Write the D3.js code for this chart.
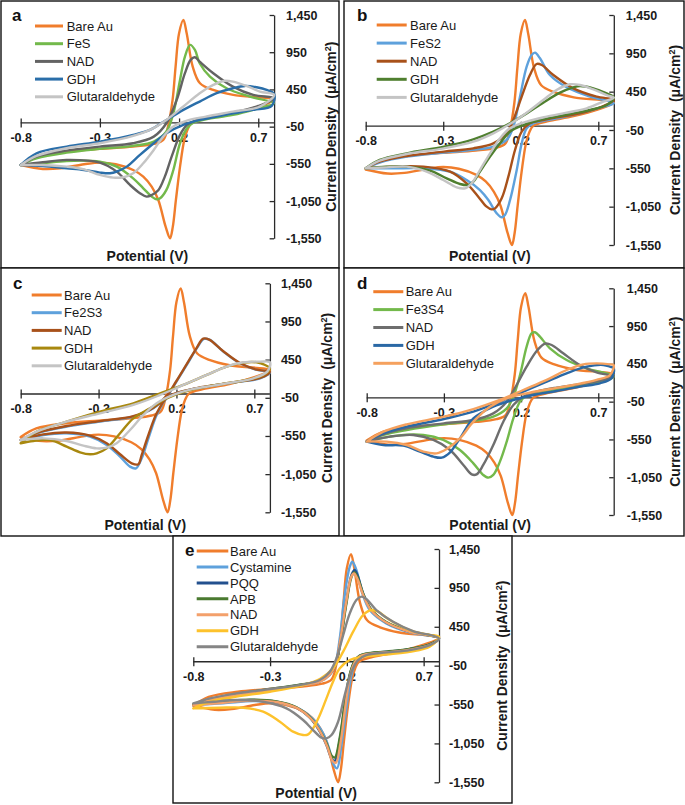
<!DOCTYPE html>
<html><head><meta charset="utf-8">
<script src="https://cdn.jsdelivr.net/npm/d3@7"></script>
<style>
body{margin:0;background:#fff}
svg{display:block}
text{font-family:"Liberation Sans",Arial,Helvetica,sans-serif}
</style>
</head><body>
<svg id="chart" width="685" height="805"></svg>
<script>
// ---------- DATA (potential V, current density µA/cm²) ----------
const potentialTicks = [-0.8, -0.3, 0.2, 0.7];
const currentTicks = [-1550, -1050, -550, -50, 450, 950, 1450];

const bareAu = [[-0.8,-565],[-0.7,-452],[-0.51,-385],[-0.3,-349],[-0.09,-318],[0.04,-282],[0.1,-228],[0.13,-49],[0.159,309],[0.178,757],[0.2,1205],[0.227,1384],[0.248,1205],[0.286,757],[0.332,533],[0.416,443],[0.542,376],[0.8,309],
 [0.7,220],[0.54,130],[0.37,63],[0.28,4],[0.255,-80],[0.233,-228],[0.206,-587],[0.18,-1035],[0.16,-1400],[0.143,-1550],[0.115,-1393],[0.069,-1035],[0.027,-856],[-0.026,-721],[-0.09,-632],[-0.2,-555],[-0.3,-533],[-0.4,-556],[-0.55,-609],[-0.66,-618],[-0.8,-565]];

const a_FeS = [[-0.8,-565],[-0.7,-475],[-0.51,-399],[-0.3,-349],[-0.09,-309],[0.04,-251],[0.12,-116],[0.164,130],[0.206,578],[0.237,892],[0.27,1048],[0.3,981],[0.33,802],[0.395,623],[0.5,466],[0.647,354],[0.8,264],
 [0.7,197],[0.54,108],[0.37,49],[0.29,4],[0.25,-72],[0.206,-273],[0.164,-632],[0.12,-900],[0.08,-1012],[0.058,-1026],[0.027,-990],[-0.026,-878],[-0.09,-744],[-0.194,-587],[-0.3,-520],[-0.51,-511],[-0.66,-542],[-0.8,-565]];
const a_NAD = [[-0.8,-565],[-0.7,-452],[-0.51,-372],[-0.3,-318],[-0.09,-273],[0.04,-184],[0.12,-4],[0.185,309],[0.237,668],[0.273,847],[0.3,883],[0.33,824],[0.416,668],[0.54,488],[0.668,376],[0.8,332],
 [0.7,228],[0.54,139],[0.37,76],[0.29,18],[0.25,-27],[0.206,-161],[0.153,-452],[0.11,-721],[0.07,-900],[0.027,-968],[-0.005,-990],[-0.047,-945],[-0.11,-833],[-0.194,-654],[-0.3,-533],[-0.51,-497],[-0.66,-529],[-0.8,-565]];
const a_GDH = [[-0.8,-565],[-0.7,-408],[-0.51,-318],[-0.3,-251],[-0.09,-161],[0.016,-94],[0.12,40],[0.227,175],[0.33,287],[0.437,399],[0.54,466],[0.616,497],[0.69,479],[0.753,444],[0.8,390],
 [0.785,230],[0.668,175],[0.54,130],[0.437,85],[0.33,40],[0.227,-27],[0.12,-139],[0.04,-273],[-0.047,-430],[-0.13,-587],[-0.194,-654],[-0.236,-676],[-0.3,-667],[-0.4,-632],[-0.51,-609],[-0.66,-578],[-0.8,-565]];
const a_Glut = [[-0.8,-565],[-0.7,-443],[-0.51,-340],[-0.3,-273],[-0.09,-175],[0.016,-94],[0.12,40],[0.227,220],[0.33,399],[0.416,511],[0.48,564],[0.54,555],[0.626,497],[0.71,421],[0.8,376],
 [0.71,220],[0.54,152],[0.37,85],[0.25,31],[0.164,-49],[0.1,-184],[0.04,-363],[-0.026,-542],[-0.09,-676],[-0.152,-730],[-0.215,-735],[-0.3,-699],[-0.4,-623],[-0.51,-587],[-0.66,-565],[-0.8,-565]];

const b_FeS2 = [[-0.8,-550],[-0.71,-476],[-0.535,-398],[-0.295,-345],[-0.106,-310],[0.023,-267],[0.109,-180],[0.152,-7],[0.195,385],[0.238,776],[0.27,928],[0.292,959],[0.324,885],[0.388,667],[0.496,507],[0.646,385],[0.8,300],
 [0.732,254],[0.582,167],[0.431,102],[0.324,59],[0.281,37],[0.238,-28],[0.206,-224],[0.174,-572],[0.131,-963],[0.098,-1159],[0.077,-1189],[0.045,-1137],[-0.009,-963],[-0.063,-833],[-0.149,-702],[-0.256,-593],[-0.428,-550],[-0.622,-550],[-0.8,-550]];
const b_NAD = [[-0.8,-550],[-0.71,-463],[-0.535,-389],[-0.295,-332],[-0.106,-289],[0.023,-224],[0.109,-93],[0.152,80],[0.206,385],[0.259,667],[0.302,811],[0.335,798],[0.41,667],[0.539,493],[0.689,385],[0.8,341],
 [0.732,263],[0.582,167],[0.431,115],[0.324,72],[0.259,37],[0.206,-72],[0.163,-311],[0.12,-659],[0.077,-941],[0.034,-1072],[0.012,-1085],[-0.02,-1050],[-0.074,-920],[-0.149,-746],[-0.256,-593],[-0.428,-528],[-0.622,-528],[-0.8,-550]];
const b_GDH = [[-0.8,-550],[-0.71,-441],[-0.535,-354],[-0.295,-267],[-0.106,-172],[0.023,-72],[0.13,37],[0.238,167],[0.345,307],[0.453,437],[0.539,507],[0.582,524],[0.668,493],[0.754,428],[0.8,376],
 [0.754,276],[0.646,211],[0.539,167],[0.431,124],[0.324,80],[0.217,15],[0.13,-72],[0.066,-224],[0.002,-398],[-0.063,-593],[-0.106,-724],[-0.138,-767],[-0.192,-754],[-0.278,-680],[-0.385,-580],[-0.535,-528],[-0.665,-528],[-0.8,-550]];
const b_Glut = [[-0.8,-550],[-0.71,-450],[-0.535,-363],[-0.295,-289],[-0.106,-202],[0.023,-93],[0.13,28],[0.238,176],[0.345,341],[0.431,472],[0.517,546],[0.582,537],[0.668,480],[0.754,406],[0.8,372],
 [0.732,320],[0.625,233],[0.496,176],[0.367,124],[0.238,59],[0.13,-28],[0.066,-159],[0.002,-354],[-0.063,-572],[-0.117,-746],[-0.16,-811],[-0.213,-798],[-0.3,-702],[-0.407,-593],[-0.535,-528],[-0.665,-537],[-0.8,-550]];

const c_Fe2S3 = [[-0.8,-603],[-0.697,-515],[-0.505,-428],[-0.291,-362],[-0.077,-297],[0.052,-188],[0.137,-35],[0.2,162],[0.266,380],[0.33,598],[0.377,721],[0.415,708],[0.501,555],[0.608,402],[0.715,315],[0.8,284],
 [0.737,205],[0.608,162],[0.458,118],[0.308,66],[0.2,9],[0.137,-57],[0.073,-275],[0.02,-581],[-0.023,-843],[-0.06,-974],[-0.098,-952],[-0.162,-821],[-0.248,-668],[-0.355,-559],[-0.505,-515],[-0.654,-537],[-0.8,-603]];
const c_NAD = [[-0.8,-603],[-0.697,-510],[-0.505,-420],[-0.291,-355],[-0.077,-290],[0.052,-180],[0.137,-25],[0.2,170],[0.266,390],[0.33,605],[0.372,725],[0.41,712],[0.501,560],[0.608,405],[0.715,318],[0.8,290],
 [0.737,210],[0.608,165],[0.458,120],[0.308,68],[0.2,12],[0.137,-50],[0.073,-253],[0.02,-537],[-0.023,-799],[-0.045,-921],[-0.087,-908],[-0.162,-790],[-0.248,-646],[-0.355,-546],[-0.505,-505],[-0.654,-530],[-0.8,-603]];
const c_GDH = [[-0.8,-646],[-0.697,-493],[-0.505,-362],[-0.291,-231],[-0.077,-122],[0.095,9],[0.244,118],[0.394,249],[0.522,358],[0.629,411],[0.715,415],[0.769,380],[0.8,336],
 [0.758,249],[0.651,183],[0.522,140],[0.394,96],[0.266,39],[0.137,-57],[0.03,-188],[-0.077,-319],[-0.162,-515],[-0.248,-712],[-0.312,-777],[-0.355,-790],[-0.419,-764],[-0.505,-690],[-0.612,-603],[-0.719,-616],[-0.8,-646]];
const c_Glut = [[-0.8,-603],[-0.697,-493],[-0.505,-362],[-0.291,-253],[-0.077,-144],[0.095,-13],[0.244,118],[0.394,249],[0.522,358],[0.629,415],[0.737,424],[0.8,415],
 [0.783,293],[0.694,205],[0.565,153],[0.437,109],[0.308,66],[0.18,-13],[0.073,-122],[-0.012,-275],[-0.098,-472],[-0.184,-646],[-0.248,-703],[-0.312,-712],[-0.398,-677],[-0.505,-616],[-0.654,-581],[-0.8,-603]];

const d_Fe3S4 = [[-0.8,-579],[-0.692,-491],[-0.541,-425],[-0.3,-350],[-0.109,-306],[0.02,-249],[0.107,-139],[0.15,16],[0.193,302],[0.236,678],[0.268,854],[0.29,868],[0.322,810],[0.387,656],[0.495,501],[0.625,391],[0.8,281],
 [0.711,215],[0.581,162],[0.43,104],[0.301,60],[0.236,29],[0.193,-50],[0.15,-271],[0.107,-579],[0.063,-844],[0.02,-1020],[-0.012,-1056],[-0.045,-1020],[-0.109,-866],[-0.196,-690],[-0.304,-557],[-0.433,-491],[-0.606,-500],[-0.8,-579]];
const d_NAD = [[-0.8,-579],[-0.692,-482],[-0.541,-403],[-0.3,-337],[-0.109,-293],[0.02,-205],[0.107,-50],[0.171,170],[0.236,413],[0.301,621],[0.355,718],[0.398,700],[0.473,590],[0.581,435],[0.689,338],[0.8,281],
 [0.733,237],[0.581,180],[0.43,136],[0.301,83],[0.214,16],[0.15,-94],[0.085,-315],[0.02,-624],[-0.045,-888],[-0.088,-1012],[-0.12,-1012],[-0.174,-888],[-0.26,-690],[-0.368,-557],[-0.498,-491],[-0.649,-513],[-0.8,-579]];
const d_GDH = [[-0.8,-579],[-0.692,-469],[-0.541,-381],[-0.3,-280],[-0.109,-183],[0.063,-50],[0.214,82],[0.366,215],[0.495,325],[0.625,413],[0.733,435],[0.776,413],[0.8,391],
 [0.786,259],[0.711,193],[0.581,149],[0.43,91],[0.279,38],[0.15,-28],[0.02,-117],[-0.109,-271],[-0.196,-536],[-0.26,-721],[-0.314,-791],[-0.368,-778],[-0.455,-712],[-0.563,-632],[-0.692,-624],[-0.8,-579]];
const d_Glut = [[-0.8,-579],[-0.692,-447],[-0.541,-350],[-0.3,-249],[-0.109,-148],[0.063,-28],[0.214,104],[0.366,237],[0.495,369],[0.603,444],[0.689,457],[0.776,444],[0.8,435],
 [0.776,303],[0.689,237],[0.538,170],[0.387,117],[0.236,60],[0.107,-6],[-0.001,-117],[-0.109,-315],[-0.196,-536],[-0.282,-677],[-0.347,-734],[-0.433,-712],[-0.541,-624],[-0.671,-579],[-0.8,-579]];

const e_Cyst = [[-0.8,-556],[-0.692,-492],[-0.518,-427],[-0.301,-363],[-0.085,-299],[0.024,-256],[0.089,-170],[0.121,-62],[0.154,302],[0.186,858],[0.219,1223],[0.236,1287],[0.262,1180],[0.301,880],[0.349,665],[0.457,494],[0.609,378],[0.8,300],
 [0.739,222],[0.609,163],[0.457,120],[0.327,94],[0.284,60],[0.258,0],[0.23,-170],[0.197,-599],[0.165,-1071],[0.136,-1370],[0.115,-1327],[0.084,-1113],[0.045,-921],[-0.02,-737],[-0.106,-608],[-0.236,-527],[-0.41,-506],[-0.605,-535],[-0.8,-556]];
const e_PQQ = [[-0.8,-556],[-0.692,-488],[-0.518,-420],[-0.301,-355],[-0.085,-292],[0.024,-248],[0.089,-160],[0.126,-41],[0.158,259],[0.197,773],[0.23,1116],[0.251,1180],[0.273,1094],[0.306,880],[0.36,665],[0.457,506],[0.609,387],[0.8,300],
 [0.739,222],[0.609,163],[0.457,129],[0.327,103],[0.284,77],[0.251,9],[0.219,-170],[0.186,-556],[0.154,-1006],[0.121,-1276],[0.1,-1242],[0.067,-1071],[0.024,-899],[-0.041,-720],[-0.128,-591],[-0.258,-514],[-0.431,-492],[-0.627,-522],[-0.8,-556]];
const e_APB = [[-0.8,-548],[-0.692,-484],[-0.518,-416],[-0.301,-350],[-0.085,-288],[0.024,-244],[0.089,-155],[0.126,-35],[0.158,250],[0.197,750],[0.23,1090],[0.249,1150],[0.272,1075],[0.306,875],[0.36,668],[0.457,510],[0.609,392],[0.8,302],
 [0.739,224],[0.609,166],[0.457,131],[0.327,105],[0.284,79],[0.251,12],[0.219,-160],[0.186,-535],[0.154,-970],[0.121,-1232],[0.1,-1205],[0.067,-1045],[0.024,-885],[-0.041,-712],[-0.128,-585],[-0.258,-510],[-0.431,-488],[-0.627,-515],[-0.8,-548]];
const e_NAD = [[-0.8,-560],[-0.692,-495],[-0.518,-430],[-0.301,-365],[-0.085,-300],[0.024,-255],[0.089,-165],[0.124,-45],[0.156,265],[0.195,760],[0.228,1090],[0.246,1135],[0.27,1060],[0.304,870],[0.355,670],[0.457,505],[0.609,385],[0.8,300],
 [0.739,215],[0.609,155],[0.457,122],[0.327,96],[0.284,70],[0.255,5],[0.222,-170],[0.19,-580],[0.158,-1050],[0.128,-1300],[0.105,-1270],[0.072,-1090],[0.03,-910],[-0.035,-730],[-0.12,-600],[-0.25,-520],[-0.42,-500],[-0.62,-530],[-0.8,-560]];
const e_GDH = [[-0.8,-600],[-0.692,-514],[-0.518,-449],[-0.301,-385],[-0.085,-299],[0.024,-222],[0.11,-84],[0.176,130],[0.241,387],[0.306,601],[0.36,665],[0.403,644],[0.479,537],[0.609,408],[0.739,344],[0.8,320],
 [0.739,193],[0.609,129],[0.457,94],[0.306,64],[0.219,22],[0.154,-84],[0.11,-256],[0.067,-471],[0.024,-685],[-0.02,-857],[-0.052,-934],[-0.085,-942],[-0.15,-899],[-0.236,-771],[-0.345,-642],[-0.475,-591],[-0.627,-591],[-0.8,-600]];
const e_Glut = [[-0.8,-535],[-0.692,-471],[-0.518,-406],[-0.301,-351],[-0.085,-291],[0.024,-235],[0.089,-128],[0.132,43],[0.176,343],[0.219,622],[0.262,794],[0.295,837],[0.327,807],[0.392,665],[0.501,515],[0.631,395],[0.8,300],
 [0.739,214],[0.609,150],[0.457,120],[0.327,86],[0.273,22],[0.23,-128],[0.186,-428],[0.143,-771],[0.1,-942],[0.067,-985],[0.035,-977],[-0.02,-878],[-0.085,-749],[-0.193,-599],[-0.345,-514],[-0.518,-492],[-0.67,-514],[-0.8,-535]];

const namesA = ["Bare Au","FeS","NAD","GDH","Glutaraldehyde"];
const namesB = ["Bare Au","FeS2","NAD","GDH","Glutaraldehyde"];
const namesC = ["Bare Au","Fe2S3","NAD","GDH","Glutaraldehyde"];
const namesD = ["Bare Au","Fe3S4","NAD","GDH","Glutaraldehyde"];
const namesE = ["Bare Au","Cystamine","PQQ","APB","NAD","GDH","Glutaraldehyde"];

// ---------- STYLE / LAYOUT ----------
const colorsA = ["#F07D2C","#73B94B","#636363","#2A6EA9","#C4C4C4"];
const colorsB = ["#F07D2C","#5EA1DC","#A8511A","#4F7F2F","#C4C4C4"];
const colorsC = ["#F07D2C","#5EA1DC","#A8511A","#A8880F","#C4C4C4"];
const colorsD = ["#F07D2C","#73B94B","#6E6E6E","#2A68A5","#F5A15E"];
const colorsE = ["#F07D2C","#5EA1DC","#23508E","#4A7A30","#F3A06B","#FDC22C","#858585"];

const panels = [
 {id:"a", names:namesA, curves:[bareAu,a_FeS,a_NAD,a_GDH,a_Glut], colors:colorsA,
  box:[1,1,338,267], x0:20.7, x1:274.1, yT:15, yB:238.3, lab:[12,21],
  leg:{l0:35,l1:63,tx:66.7,y0:26,dy:17.7}, ytl:12, ytitle:335.5, xtitle:260.7},
 {id:"b", names:namesB, curves:[bareAu,b_FeS2,b_NAD,b_GDH,b_Glut], colors:colorsB,
  box:[344,1,340,267], x0:365.7, x1:613.8, yT:15, yB:245, lab:[357,21],
  leg:{l0:376.7,l1:406.7,tx:410,y0:25,dy:18.1}, ytl:12, ytitle:679.5, xtitle:261},
 {id:"c", names:namesC, curves:[bareAu,c_Fe2S3,c_NAD,c_GDH,c_Glut], colors:colorsC,
  box:[1,268,338,268], x0:20.7, x1:269.9, yT:283.3, yB:512.3, lab:[13,289],
  leg:{l0:31.7,l1:61.7,tx:64,y0:295,dy:17.7}, ytl:11, ytitle:332, xtitle:530},
 {id:"d", names:namesD, curves:[bareAu,d_Fe3S4,d_NAD,d_GDH,d_Glut], colors:colorsD,
  box:[344,268,340,268], x0:366.7, x1:613.7, yT:288.3, yB:515, lab:[357,289],
  leg:{l0:373.3,l1:403.3,tx:405.7,y0:291.7,dy:17.9}, ytl:13, ytitle:679.5, xtitle:530},
 {id:"e", names:namesE, curves:[bareAu,e_Cyst,e_PQQ,e_APB,e_NAD,e_GDH,e_Glut], colors:colorsE,
  box:[173,536,339,267], x0:193.3, x1:439, yT:549, yB:782.3, lab:[185,556],
  leg:{l0:196.7,l1:228.3,tx:230,y0:551,dy:15.95}, ytl:10, ytitle:506.5, xtitle:798}
];

const svg = d3.select("#chart");
const fmt = d3.formatLocale({decimal:".",thousands:",",grouping:[3],currency:["$",""],minus:"-"}).format(",");
const axisColor = "#2a2a2a";

panels.forEach(p => {
  const g = svg.append("g");
  g.append("rect").attr("x",p.box[0]).attr("y",p.box[1]).attr("width",p.box[2]).attr("height",p.box[3])
    .attr("fill","#fff").attr("stroke","#111").attr("stroke-width",1.4);

  const x = d3.scaleLinear().domain([-0.8,0.8]).range([p.x0,p.x1]);
  const y = d3.scaleLinear().domain([1450,-1550]).range([p.yT,p.yB]);
  const y0 = y(0);

  // x axis (crosses at 0)
  const xa = g.append("g").attr("transform",`translate(0,${y0-4.5})`)
    .call(d3.axisBottom(x).tickValues(potentialTicks).tickSize(9).tickSizeOuter(0).tickPadding(5.6).tickFormat(d=>d.toFixed(1)));
  xa.select(".domain").remove();
  xa.selectAll("line").attr("stroke",axisColor).attr("stroke-width",1.3);
  xa.selectAll("text").attr("font-size",12.5).attr("font-weight","bold").attr("fill","#1a1a1a")
    .attr("font-family",'"Liberation Sans",Arial,sans-serif');
  g.append("line").attr("x1",p.x0).attr("x2",p.x1).attr("y1",y0).attr("y2",y0)
    .attr("stroke",axisColor).attr("stroke-width",1.3);

  // y axis at max potential
  const ya = g.append("g").attr("transform",`translate(${p.x1},0)`)
    .call(d3.axisRight(y).tickValues(currentTicks).tickSizeInner(-4.5).tickSizeOuter(0).tickPadding(p.ytl).tickFormat(fmt));
  ya.select(".domain").attr("stroke",axisColor).attr("stroke-width",1.3);
  ya.selectAll("line").attr("stroke",axisColor).attr("stroke-width",1.3);
  ya.selectAll("text").attr("font-size",12.5).attr("font-weight","bold").attr("fill","#1a1a1a")
    .attr("font-family",'"Liberation Sans",Arial,sans-serif');

  // curves
  const line = d3.line().x(d=>x(d[0])).y(d=>y(d[1])).curve(d3.curveCatmullRom.alpha(0.5));
  p.curves.forEach((c,i) => {
    g.append("path").attr("d",line(c)).attr("fill","none").attr("stroke",p.colors[i])
      .attr("stroke-width",2.4).attr("stroke-linejoin","round").attr("stroke-linecap","round");
  });

  // legend
  p.names.forEach((n,i) => {
    const yy = p.leg.y0 + i*p.leg.dy;
    g.append("line").attr("x1",p.leg.l0).attr("x2",p.leg.l1).attr("y1",yy).attr("y2",yy)
      .attr("stroke",p.colors[i]).attr("stroke-width",3);
    g.append("text").attr("x",p.leg.tx).attr("y",yy).attr("dy","0.36em").attr("font-size",13)
      .attr("fill","#1a1a1a").text(n);
  });

  // panel label
  g.append("text").attr("x",p.lab[0]).attr("y",p.lab[1]).attr("font-size",17).attr("font-weight","bold")
    .attr("fill","#111").text(p.id);

  // x title
  g.append("text").attr("x",(p.x0+p.x1)/2).attr("y",p.xtitle).attr("text-anchor","middle")
    .attr("font-size",14).attr("font-weight","bold").attr("fill","#1a1a1a").text("Potential (V)");

  // y title
  const yt = g.append("text").attr("transform",`translate(${p.ytitle},${(p.yT+p.yB)/2}) rotate(-90)`)
    .attr("text-anchor","middle").attr("font-size",14).attr("font-weight","bold").attr("fill","#1a1a1a");
  yt.append("tspan").text("Current Density");
  yt.append("tspan").attr("dx",8).text("(μA/cm");
  yt.append("tspan").attr("dy",-5).attr("font-size",9).text("2");
  yt.append("tspan").attr("dy",5).text(")");
});
</script>
</body></html>
